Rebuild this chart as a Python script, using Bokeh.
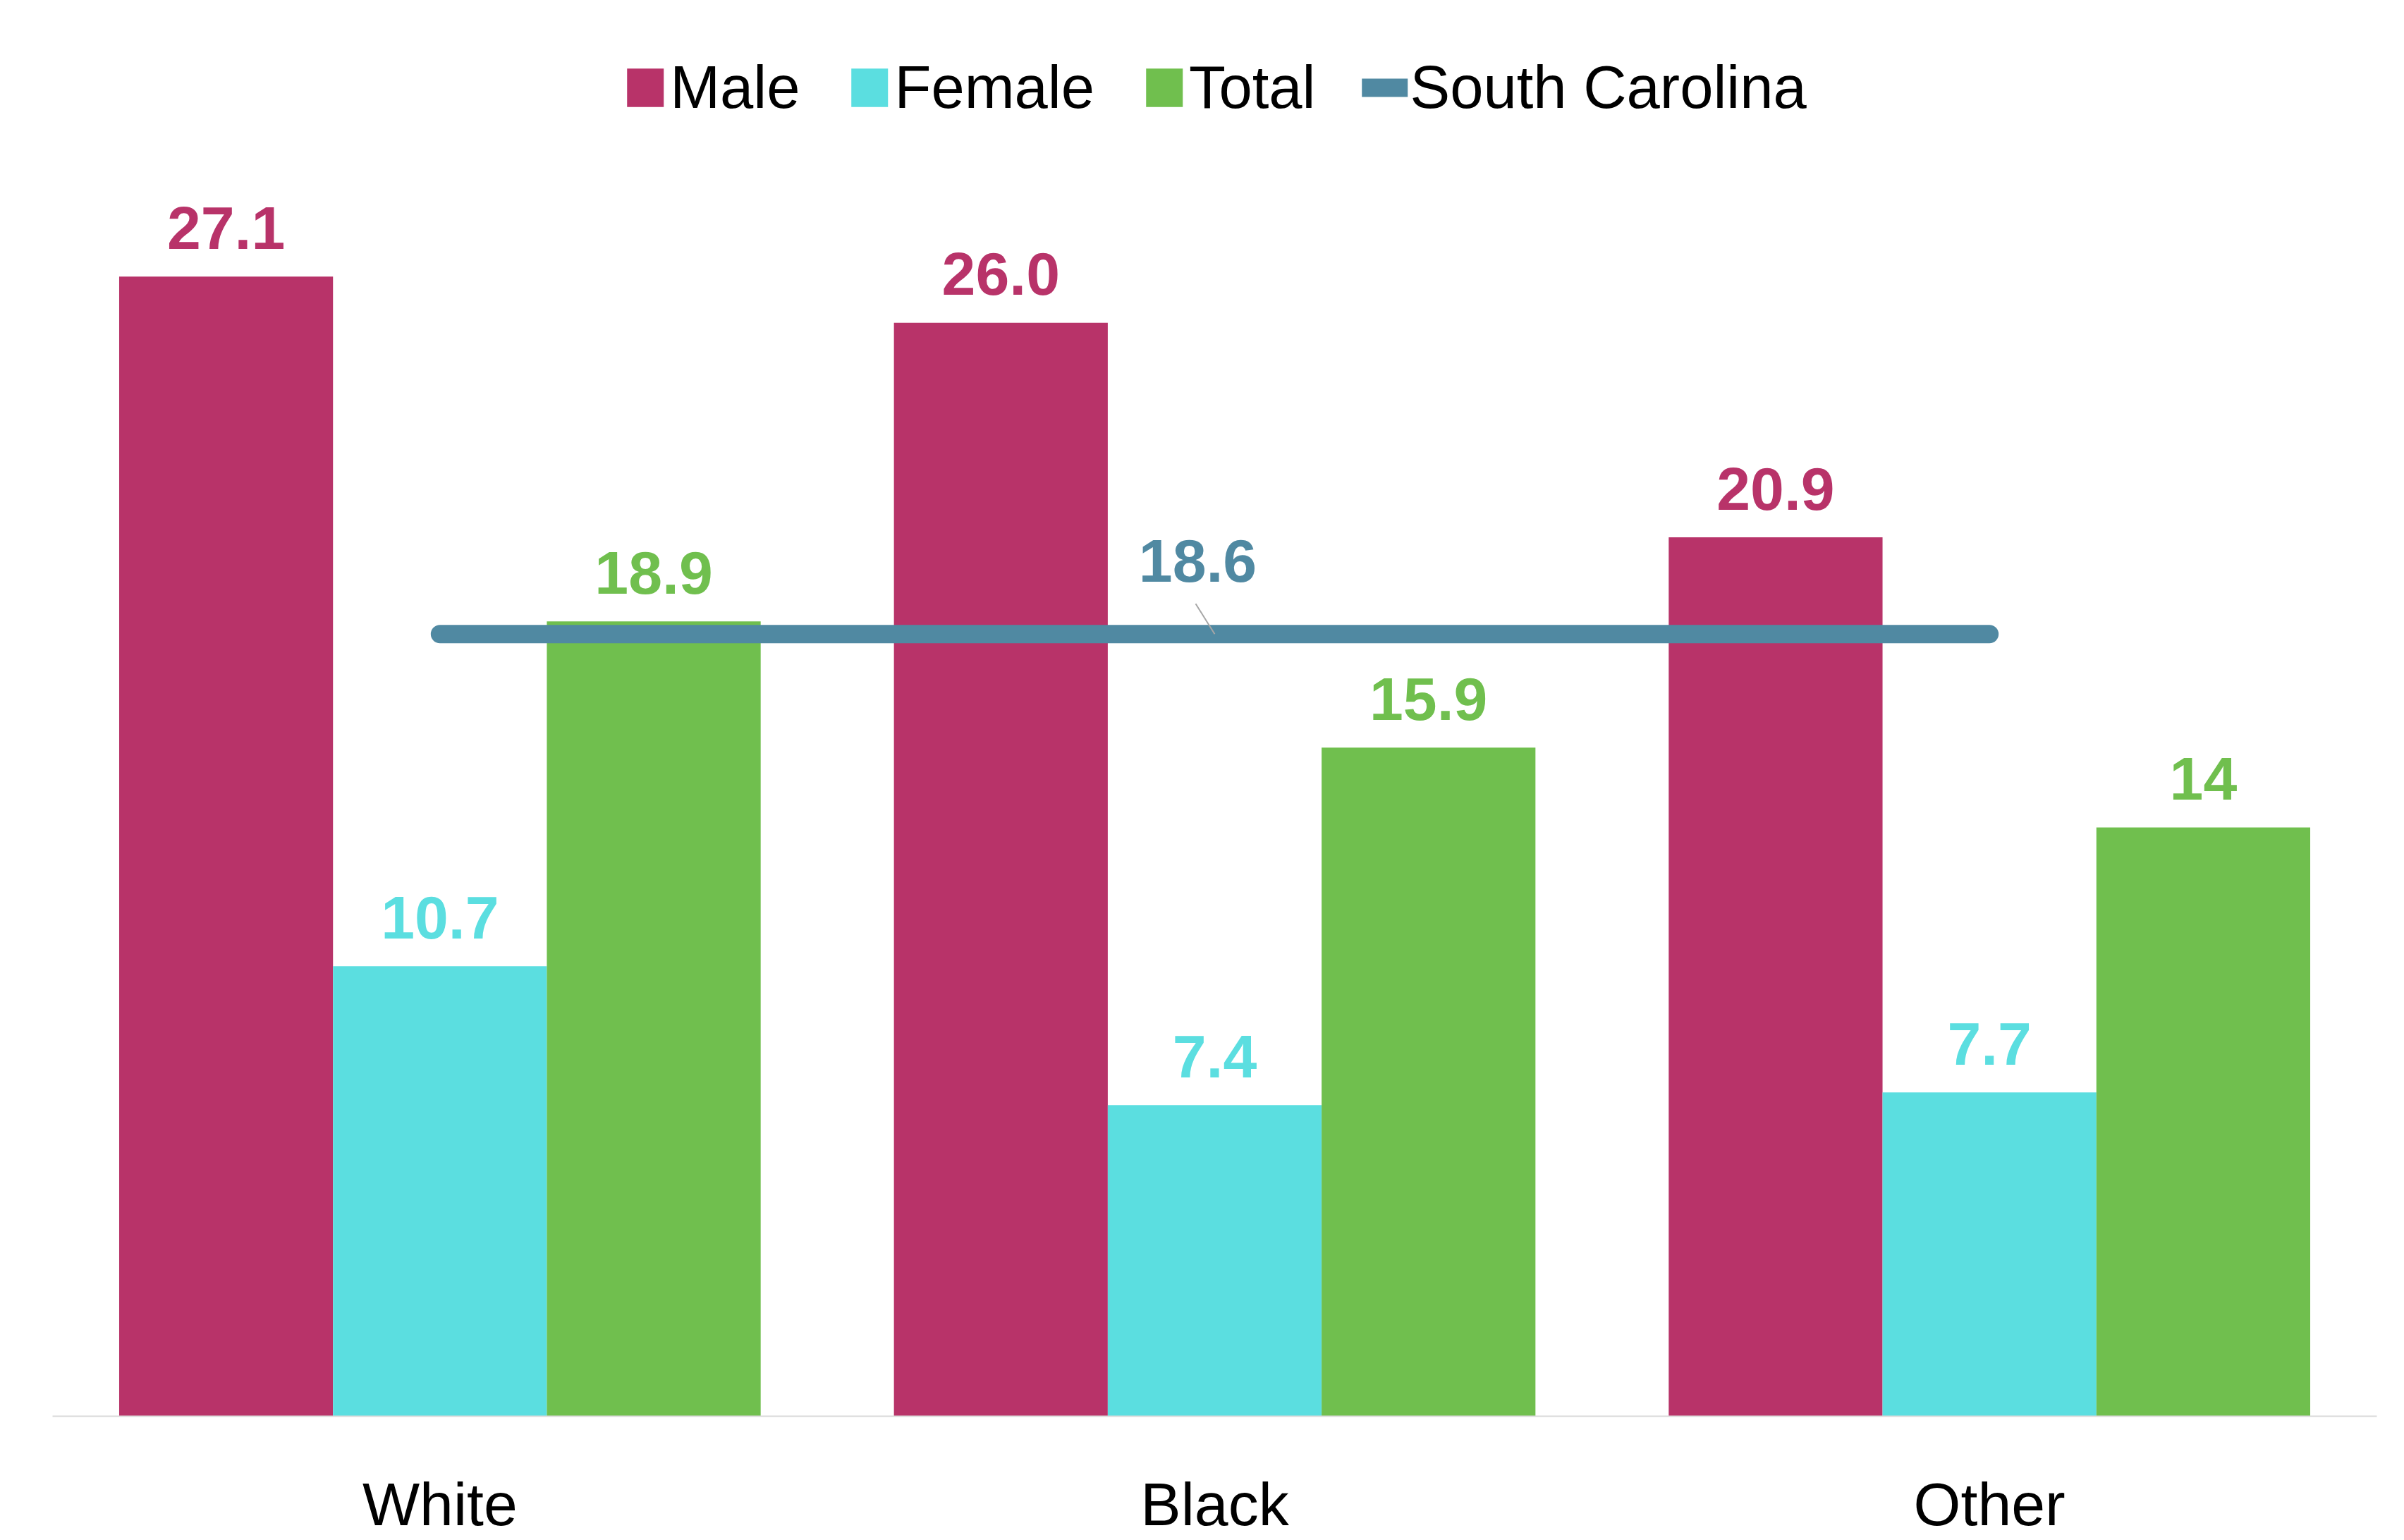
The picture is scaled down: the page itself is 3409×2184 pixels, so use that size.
from bokeh.plotting import figure
from bokeh.models import ColumnDataSource, Legend, LegendItem, FactorRange, Range1d
from bokeh.transform import dodge
from bokeh.core.properties import value
from bokeh.embed import file_html
from bokeh.resources import INLINE

# ---- data ----
categories = ["White", "Black", "Other"]
male = [27.1, 26.0, 20.9]
female = [10.7, 7.4, 7.7]
total = [18.9, 15.9, 14]
south_carolina = [18.6, 18.6, 18.6]
male_labels = ["27.1", "26.0", "20.9"]
female_labels = ["10.7", "7.4", "7.7"]
total_labels = ["18.9", "15.9", "14"]
sc_label = ["18.6"]
sc_label_cat = ["Black"]

# ---- colours / layout ----
C_MALE = "#B83369"
C_FEMALE = "#5BDEE0"
C_TOTAL = "#70BF4E"
C_SC = "#5089A2"
FONT = "Liberation Sans"

W, H = 3409, 2184
LEFT, RIGHT = 74, 39
BOTTOM = 176
PX_PER_UNIT = 59.64
CAT_PX = (W - LEFT - RIGHT) / 3.0
y_top = (H - BOTTOM) / PX_PER_UNIT
BW = 0.276

src = ColumnDataSource(dict(cat=categories, male=male, female=female, total=total, sc=south_carolina,
                            ml=male_labels, fl=female_labels, tl=total_labels))
lsrc = ColumnDataSource(dict(cat=sc_label_cat, sc=[south_carolina[1]], txt=sc_label))

p = figure(x_range=FactorRange(*categories, range_padding=0), y_range=Range1d(0, y_top),
           width=W, height=H, output_backend="svg", toolbar_location=None,
           y_axis_location=None, min_border_left=LEFT, min_border_right=RIGHT,
           min_border_top=0, min_border_bottom=BOTTOM)
p.outline_line_color = None
p.grid.visible = False
p.background_fill_color = "white"
p.border_fill_color = "white"

r_m = p.vbar(x=dodge("cat", -BW, range=p.x_range), top="male", width=BW, source=src,
             fill_color=C_MALE, line_color=None)
r_f = p.vbar(x=dodge("cat", 0, range=p.x_range), top="female", width=BW, source=src,
             fill_color=C_FEMALE, line_color=None)
r_t = p.vbar(x=dodge("cat", BW, range=p.x_range), top="total", width=BW, source=src,
             fill_color=C_TOTAL, line_color=None)
r_sc = p.line(x="cat", y="sc", source=src, line_color=C_SC, line_width=26, line_cap="round")

# leader line from SC label to the line
p.segment(x0=dodge("cat", -27 / CAT_PX, range=p.x_range), y0=south_carolina[1] + 43 / PX_PER_UNIT,
          x1="cat", y1="sc", source=lsrc, line_color="#A6A6A6", line_width=2)

common = dict(text_align="center", text_baseline="alphabetic", text_font=value(FONT),
              text_font_style="bold", text_font_size="86px", y_offset=-69)
p.text(x=dodge("cat", -BW, range=p.x_range), y="male", text="ml", source=src, text_color=C_MALE, **common)
p.text(x=dodge("cat", 0, range=p.x_range), y="female", text="fl", source=src, text_color=C_FEMALE, **common)
p.text(x=dodge("cat", BW, range=p.x_range), y="total", text="tl", source=src, text_color=C_TOTAL, **common)
p.text(x="cat", y="sc", text="txt", source=lsrc, text_color=C_SC, text_align="center",
       text_baseline="alphabetic", text_font=value(FONT), text_font_style="bold",
       text_font_size="86px", x_offset=-24, y_offset=-104)

ax = p.xaxis[0]
ax.axis_line_color = "#D9D9D9"
ax.axis_line_width = 2
ax.major_tick_line_color = None
ax.minor_tick_line_color = None
ax.major_label_text_font = FONT
ax.major_label_text_font_size = "86px"
ax.major_label_text_color = "black"
ax.major_label_standoff = 70

legend = Legend(items=[LegendItem(label="Male", renderers=[r_m]),
                       LegendItem(label="Female", renderers=[r_f]),
                       LegendItem(label="Total", renderers=[r_t]),
                       LegendItem(label="South Carolina", renderers=[r_sc])],
                orientation="horizontal", location="top_center",
                glyph_width=65, glyph_height=68, label_standoff=3, spacing=66,
                padding=0, margin=75, border_line_color=None, background_fill_alpha=0,
                label_text_font=FONT, label_text_font_size="85px", label_text_color="black")
p.add_layout(legend, "center")

open("out.html", "w").write(file_html(p, INLINE))
